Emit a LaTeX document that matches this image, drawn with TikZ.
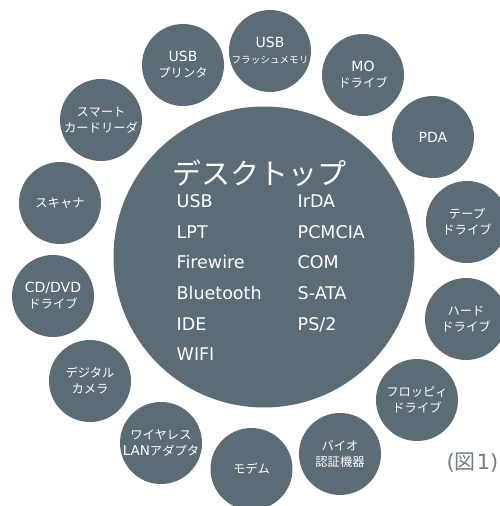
\documentclass[tikz,border=0pt]{standalone}
\usepackage{fontspec}
\setmainfont{DejaVu Sans}
\newfontfamily\jp{Noto Sans CJK JP}
\definecolor{devfill}{RGB}{91,108,118}
\definecolor{figlabel}{RGB}{112,126,136}
\newcommand\J[1]{{\jp\fontsize{12.3}{16}\selectfont #1}}
\newcommand\JS[1]{{\jp\fontsize{9.6}{16}\selectfont #1}}
\tikzset{
  dev/.style={circle, fill=devfill, text=white, minimum size=82pt, inner sep=0pt,
    align=center, font=\fontsize{14}{16}\selectfont},
  bigcirc/.style={circle, fill=devfill, minimum size=301pt, inner sep=0pt},
  deskitem/.style={anchor=base west, inner sep=0pt, text=white, font=\fontsize{17.5}{20}\selectfont},
  desktitle/.style={anchor=base west, inner sep=0pt, text=white, font=\jp\fontsize{29}{32}\selectfont},
  figtag/.style={anchor=base, inner sep=0pt, text=figlabel, font=\fontsize{21}{22}\selectfont}
}
\begin{document}
\begin{tikzpicture}[x=1pt,y=-1pt]
\useasboundingbox (0,0) rectangle (500,506);
% central circle
\node[bigcirc] (desk) at (264,257) {};
\node[desktitle] (title) at (172,184) {デスクトップ};
% left column
\node[deskitem] (usb) at (176.5,207) {USB};
\node[deskitem] (lpt) at (176.5,238) {LPT};
\node[deskitem] (fw) at (176.5,268.5) {Firewire};
\node[deskitem] (bt) at (176.5,299) {Bluetooth};
\node[deskitem] (ide) at (176.5,330) {IDE};
\node[deskitem] (wifi) at (176.5,360) {WIFI};
% right column
\node[deskitem] (irda) at (297.5,207) {IrDA};
\node[deskitem] (pcmcia) at (297.5,238) {PCMCIA};
\node[deskitem] (com) at (297.5,268.5) {COM};
\node[deskitem] (sata) at (297.5,299) {S-ATA};
\node[deskitem] (ps2) at (297.5,330) {PS/2};
% peripheral circles
\node[dev] (printer) at (183,65) {USB\\\J{プリンタ}};
\node[dev] (flash) at (270,51) {USB\\\JS{フラッシュメモリ}};
\node[dev] (mo) at (363,75) {MO\\\J{ドライブ}};
\node[dev] (pda) at (433,137) {PDA};
\node[dev] (tape) at (467,222) {\J{テープ}\\\J{ドライブ}};
\node[dev] (hdd) at (466,319) {\J{ハード}\\\J{ドライブ}};
\node[dev] (floppy) at (417,400) {\J{フロッピィ}\\\J{ドライブ}};
\node[dev] (bio) at (340,454) {\J{バイオ}\\\J{認証機器}};
\node[dev] (modem) at (251.5,469) {\J{モデム}};
\node[dev] (wlan) at (161,443) {\J{ワイヤレス}\\{\fontsize{13.5}{16}\selectfont LAN}\J{アダプタ}};
\node[dev] (camera) at (90,381) {\J{デジタル}\\\J{カメラ}};
\node[dev] (cddvd) at (53,296) {CD/DVD\\\J{ドライブ}};
\node[dev] (scanner) at (60,203) {\J{スキャナ}};
\node[dev] (smart) at (101,120) {\J{スマート}\\\J{カードリーダ}};
% figure tag
\node[figtag] (tag) at (472.5,469) {({\jp 図}\kern1pt 1)};
\end{tikzpicture}
\end{document}
